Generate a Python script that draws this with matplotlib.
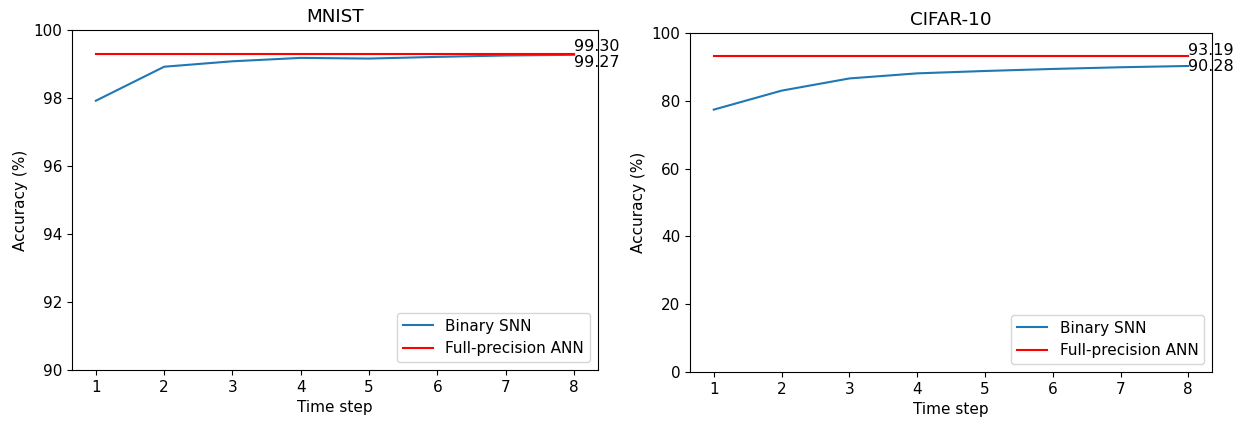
import matplotlib
matplotlib.use('Agg')
import matplotlib.pyplot as plt

steps = [1, 2, 3, 4, 5, 6, 7, 8]

# MNIST accuracy per time step
mnist_snn = [97.92, 98.92, 99.08, 99.18, 99.16, 99.21, 99.25, 99.27]
mnist_ann = 99.30

# CIFAR-10 accuracy per time step
cifar_snn = [77.4, 83.0, 86.6, 88.1, 88.8, 89.4, 89.9, 90.28]
cifar_ann = 93.19

plt.rcParams['font.size'] = 11

fig = plt.figure(figsize=(12.34, 4.25), dpi=100)
ax1 = fig.add_axes([0.0583, 0.1294, 0.4263, 0.8])
ax2 = fig.add_axes([0.5592, 0.1247, 0.4230, 0.7976])

# left panel
ax1.plot(steps, mnist_snn, label='Binary SNN')
ax1.plot(steps, [mnist_ann] * len(steps), color='red', label='Full-precision ANN')
ax1.text(8, mnist_ann, '%.2f' % mnist_ann, fontsize=11.5, va='bottom')
ax1.text(8, mnist_snn[-1], '%.2f' % mnist_snn[-1], fontsize=11.5, va='top')
ax1.set_ylim(90, 100)
ax1.set_xticks(steps)
ax1.set_title('MNIST')
ax1.set_xlabel('Time step')
ax1.set_ylabel('Accuracy (%)')
ax1.legend(loc='lower right')

# right panel
ax2.plot(steps, cifar_snn, label='Binary SNN')
ax2.plot(steps, [cifar_ann] * len(steps), color='red', label='Full-precision ANN')
ax2.text(8, cifar_ann + 0.3, '%.2f' % cifar_ann, fontsize=11.5, va='baseline')
ax2.text(8, cifar_snn[-1] - 0.3, '%.2f' % cifar_snn[-1], fontsize=11.5, va='center')
ax2.set_ylim(0, 100)
ax2.set_xticks(steps)
ax2.set_title('CIFAR-10')
ax2.set_xlabel('Time step')
ax2.set_ylabel('Accuracy (%)')
ax2.legend(loc='lower right')

fig.savefig('out.png', dpi=100)
